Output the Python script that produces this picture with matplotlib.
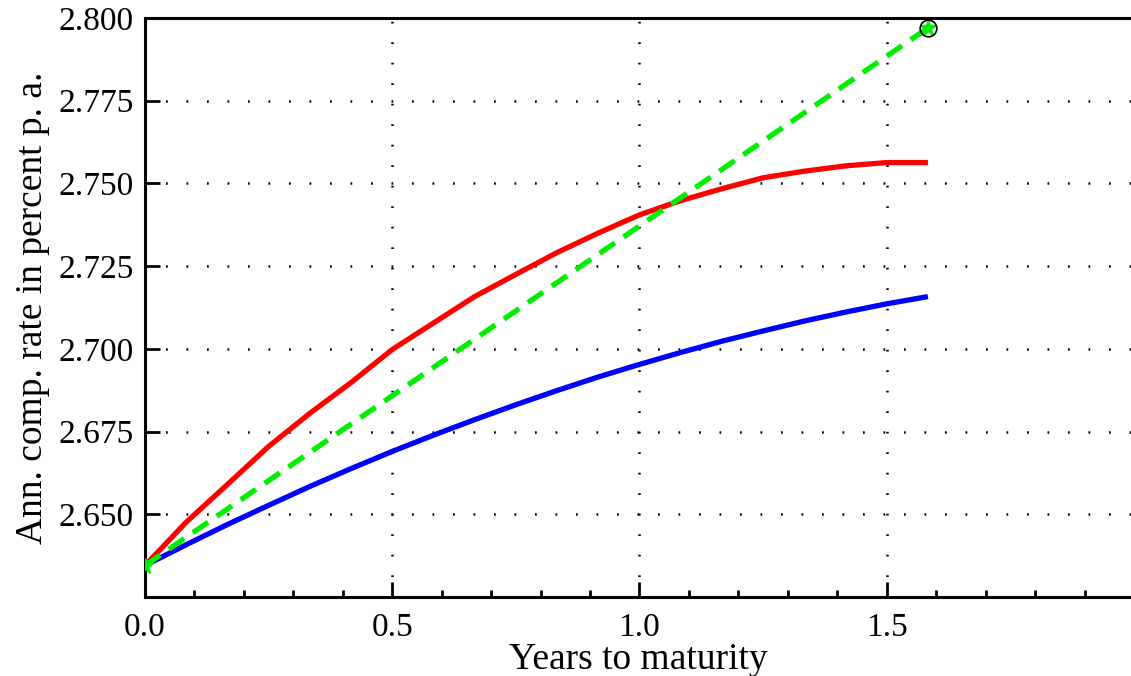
import numpy as np
import matplotlib.pyplot as plt
from matplotlib.ticker import MultipleLocator

# years to maturity (monthly knots)
years = [0.0, 0.0833, 0.1667, 0.25, 0.3333, 0.4167, 0.5, 0.5833, 0.6667, 0.75,
         0.8333, 0.9167, 1.0, 1.0833, 1.1667, 1.25, 1.3333, 1.4167, 1.5, 1.5833]

# red curve
rate_red = [2.6345, 2.6476, 2.6590, 2.6705, 2.6805, 2.6898, 2.6998, 2.7078, 2.7158, 2.7225,
            2.7291, 2.7350, 2.7405, 2.7448, 2.7484, 2.7517, 2.7537, 2.7553, 2.7563, 2.7563]

# blue curve
rate_blue = [2.6345, 2.6408, 2.6469, 2.6527, 2.6584, 2.6638, 2.6690, 2.6739, 2.6786, 2.6831,
             2.6874, 2.6915, 2.6953, 2.6989, 2.7023, 2.7054, 2.7084, 2.7111, 2.7136, 2.7158]

# green dashed line between the two end points
green_x = [0.0, 1.5833]
green_y = [2.6345, 2.7970]

plt.rcParams['font.family'] = ['Liberation Serif', 'DejaVu Serif']

fig = plt.figure(figsize=(11.31, 6.76), dpi=100)
ax = fig.add_axes([0.1282, 0.1169, 0.8718, 0.8565])

dots = (0, (0.7, 7.5))
ax.grid(True, which='major', color='black', linestyle=dots, linewidth=1.8)

ax.plot(years, rate_blue, color='#0000ff', lw=3.8, solid_capstyle='butt', zorder=3)
ax.plot(years, rate_red, color='#ff0000', lw=3.8, solid_capstyle='butt', zorder=3)
ax.plot(green_x, green_y, color='#00ee00', lw=3.8, linestyle=(0, (3.5, 2.0)), zorder=4)
ax.plot(green_x, green_y, linestyle='none', marker='*', color='#00ee00', ms=12,
        markeredgewidth=1, zorder=5)
ax.plot(green_x[-1:], green_y[-1:], linestyle='none', marker='o', ms=12,
        markerfacecolor='none', markeredgecolor='black', markeredgewidth=1.2, zorder=6)

ax.set_xlim(0, 1.994)
ax.set_ylim(2.625, 2.800)
ax.xaxis.set_minor_locator(MultipleLocator(0.1))
ax.set_xticks([0.0, 0.5, 1.0, 1.5])
ax.set_xticklabels(['0.0', '0.5', '1.0', '1.5'])
ax.set_yticks([2.650, 2.675, 2.700, 2.725, 2.750, 2.775, 2.800])
ax.set_yticklabels(['2.650', '2.675', '2.700', '2.725', '2.750', '2.775', '2.800'])

ax.tick_params(which='major', direction='in', length=11, width=2, labelsize=24, pad=8)
ax.tick_params(axis='x', which='major', pad=11)
ax.tick_params(which='minor', direction='in', length=5, width=2)
ax.tick_params(axis='y', which='minor', length=0)

for side in ['left', 'bottom', 'top']:
    ax.spines[side].set_linewidth(2.2)
ax.spines['right'].set_visible(False)

ax.set_xlabel('Years to maturity', fontsize=27, labelpad=0)
ax.set_ylabel('Ann. comp. rate in percent p. a.', fontsize=27, labelpad=6)

fig.savefig('out.png', dpi=100)
